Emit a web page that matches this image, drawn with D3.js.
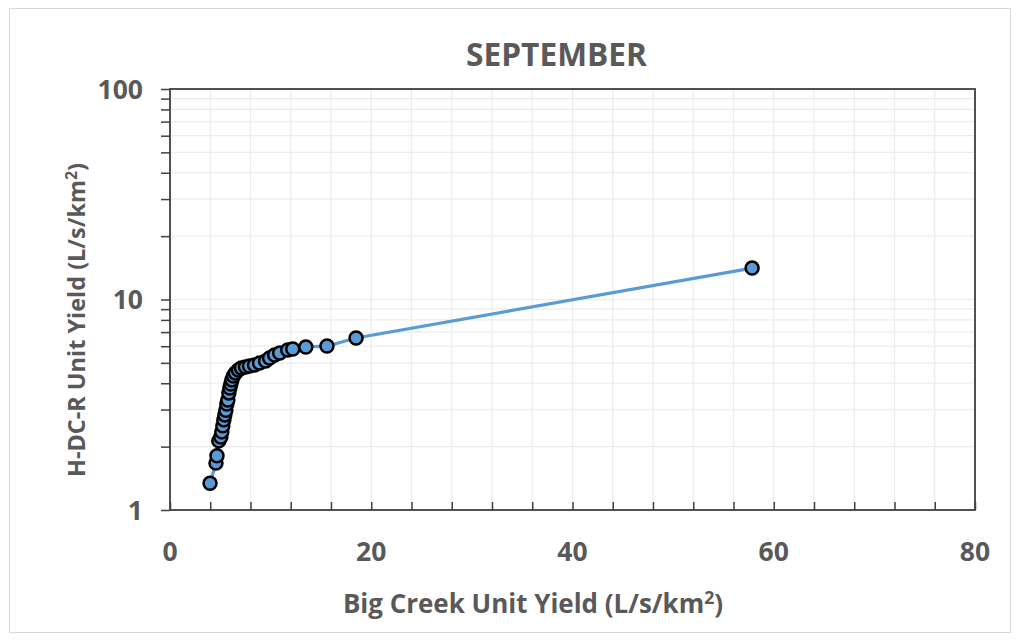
<!DOCTYPE html>
<html><head><meta charset="utf-8">
<script src="https://cdn.jsdelivr.net/npm/d3@7"></script>
<style>body{margin:0;background:#fff}text{font-family:"Open Sans",Lato,sans-serif;font-weight:bold;fill:#595959}</style>
</head><body>
<svg id="c" width="1020" height="641"></svg>
<script>
const title = "SEPTEMBER";
const xTickLabels = [0, 20, 40, 60, 80];
const yTickLabels = [1, 10, 100];
const bigCreek = [3.98,4.57,4.67,4.85,5.05,5.15,5.25,5.35,5.45,5.55,5.65,5.75,5.85,5.95,6.05,6.15,6.3,6.5,6.8,7.1,7.5,7.9,8.4,8.9,9.5,9.9,10.4,10.9,11.7,12.2,13.5,15.6,18.49,57.85];
const hdcr =     [1.34,1.67,1.81,2.13,2.22,2.35,2.51,2.68,2.83,2.98,3.19,3.33,3.60,3.80,3.97,4.15,4.33,4.48,4.62,4.73,4.78,4.83,4.89,4.99,5.10,5.27,5.45,5.57,5.75,5.82,5.95,6.01,6.56,14.1];

const svg = d3.select("#c");
const L=170,R=975,T=89,B=510;
const x = d3.scaleLinear().domain([0,80]).range([L,R]);
const y = d3.scaleLog().domain([1,100]).range([B,T]);

function fit(sel, target){
  const w = sel.node().getComputedTextLength();
  const fs = +sel.attr("font-size");
  const nf = fs*target/w;
  sel.attr("font-size", nf.toFixed(2));
  sel.selectAll("tspan.sup").attr("font-size", (nf*0.68).toFixed(2)).attr("dy", (-nf*0.36).toFixed(2));
  sel.selectAll("tspan.after").attr("dy", (nf*0.36).toFixed(2));
}

svg.append("rect").attr("x",9.5).attr("y",8.5).attr("width",1001).attr("height",624).attr("fill","#fff").attr("stroke","#d9d9d9");

const xMinor = d3.range(0,81,4);
const yMinor = [];
for (let d=1; d<100; d*=10) for (let k=1;k<10;k++) yMinor.push(d*k);
yMinor.push(100);

const g = svg.append("g");
g.selectAll(".vg").data(xMinor).join("line").attr("x1",d=>x(d)).attr("x2",d=>x(d)).attr("y1",T).attr("y2",B).attr("stroke","#ececec").attr("stroke-width",1.2);
g.selectAll(".hg").data(yMinor).join("line").attr("y1",d=>y(d)).attr("y2",d=>y(d)).attr("x1",L).attr("x2",R).attr("stroke","#ececec").attr("stroke-width",1.2);

svg.append("rect").attr("x",L).attr("y",T).attr("width",R-L).attr("height",B-T).attr("fill","none").attr("stroke","#404040").attr("stroke-width",1.8);

const xAxis = d3.axisBottom(x).tickValues(xMinor).tickSize(-8).tickFormat("");
const xa = svg.append("g").attr("transform",`translate(0,${B})`).call(xAxis);
xa.select(".domain").remove();
xa.selectAll("line").attr("stroke","#404040").attr("stroke-width",1.5);
svg.selectAll(".xl").data(xTickLabels).join("text").attr("x",d=>x(d)).attr("y",561).attr("text-anchor","middle").attr("font-size",26.5).text(d=>d);

const yAxis = d3.axisLeft(y).tickValues(yMinor).tickSize(9).tickFormat("");
const ya = svg.append("g").attr("transform",`translate(${L},0)`).call(yAxis);
ya.select(".domain").remove();
ya.selectAll("line").attr("stroke","#404040").attr("stroke-width",1.5);
svg.selectAll(".yl").data(yTickLabels).join("text").attr("x",143).attr("y",d=>y(d)+9.5).attr("text-anchor","end").attr("font-size",26.5).text(d=>d);

const pts = bigCreek.map((v,i)=>[v,hdcr[i]]);
svg.append("path").datum(pts).attr("d",d3.line().x(d=>x(d[0])).y(d=>y(d[1]))).attr("fill","none").attr("stroke","#5b9bd5").attr("stroke-width",3.2);
svg.selectAll(".pt").data(pts).join("circle").attr("cx",d=>x(d[0])).attr("cy",d=>y(d[1])).attr("r",6.5).attr("fill","#5b9bd5").attr("stroke","#000").attr("stroke-width",2.5);

const tt = svg.append("text").attr("x",556.5).attr("y",66).attr("text-anchor","middle").attr("font-size",25).text(title);
fit(tt,181);
const xt = svg.append("text").attr("x",533).attr("y",613).attr("text-anchor","middle").attr("font-size",21);
xt.append("tspan").text("Big Creek Unit Yield (L/s/km");
xt.append("tspan").attr("class","sup").attr("font-size",14).text("2");
xt.append("tspan").attr("class","after").text(")");
fit(xt,380);
const yt = svg.append("text").attr("transform","translate(85,320) rotate(-90)").attr("text-anchor","middle").attr("font-size",21);
yt.append("tspan").text("H-DC-R Unit Yield (L/s/km");
yt.append("tspan").attr("class","sup").attr("font-size",14).text("2");
yt.append("tspan").attr("class","after").text(")");
fit(yt,314);
</script>
</body></html>
